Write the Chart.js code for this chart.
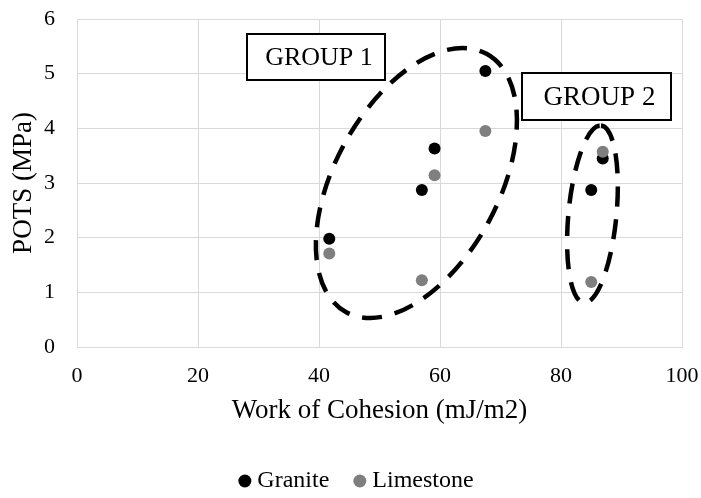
<!DOCTYPE html>
<html lang="en">

<head>
  <meta charset="UTF-8">
  <title>POTS vs Work of Cohesion</title>
  <script src="https://cdn.jsdelivr.net/npm/chart.js"></script>
  <style>
    html,
    body {
      margin: 0;
      padding: 0;
      background: #fff;
    }

    .chart-box {
      width: 701px;
      height: 498px;
      position: relative;
    }
  </style>
</head>

<body>
  <div class="chart-box">
    <canvas id="potsChart"></canvas>
  </div>

  <script>
    // Values
    const cohesion = [41.7, 57.0, 59.1, 67.5, 85.0, 86.9];
    const granitePots = [1.98, 2.87, 3.63, 5.05, 2.87, 3.45];
    const limestonePots = [1.71, 1.22, 3.14, 3.95, 1.19, 3.57];
    const seriesNames = ['Granite', 'Limestone'];
    const xTicks = [0, 20, 40, 60, 80, 100];
    const yTicks = [0, 1, 2, 3, 4, 5, 6];

    const serif = '"Liberation Serif", "Times New Roman", serif';

    // Dashed outlines and labels for the two groups (centre in data units)
    const groups = [
      { label: 'GROUP 1', cx: 56.1, cy: 3.0, rx: 147, ry: 82, angle: -61.5, boxX: 39.5, boxY: 5.30, boxW: 138, boxH: 46, size: 26 },
      { label: 'GROUP 2', cx: 85.2, cy: 2.43, rx: 89, ry: 24, angle: -84.5, boxX: 85.87, boxY: 4.58, boxW: 149, boxH: 47, size: 27 }
    ];

    const toPoints = (xs, ys) => xs.map((v, i) => ({ x: v, y: ys[i] }));

    const groupOutlines = {
      id: 'groupOutlines',
      afterDatasetsDraw(chart) {
        const { ctx, scales: { x, y } } = chart;
        ctx.save();
        groups.forEach(g => {
          // ellipse
          ctx.beginPath();
          ctx.setLineDash([20, 13]);
          ctx.lineWidth = 4.5;
          ctx.strokeStyle = '#000';
          ctx.ellipse(x.getPixelForValue(g.cx), y.getPixelForValue(g.cy), g.rx, g.ry,
            g.angle * Math.PI / 180, 0, Math.PI * 2);
          ctx.stroke();

          // label box
          ctx.setLineDash([]);
          const left = Math.round(x.getPixelForValue(g.boxX) - g.boxW / 2);
          const top = Math.round(y.getPixelForValue(g.boxY) - g.boxH / 2);
          ctx.fillStyle = '#fff';
          ctx.fillRect(left, top, g.boxW, g.boxH);
          ctx.lineWidth = 2;
          ctx.strokeRect(left, top, g.boxW, g.boxH);
          ctx.fillStyle = '#000';
          ctx.font = g.size + 'px ' + serif;
          ctx.textAlign = 'center';
          ctx.textBaseline = 'middle';
          ctx.fillText(g.label, left + g.boxW / 2 + 3, top + g.boxH / 2 + 1);
        });
        ctx.restore();
      }
    };

    const data = {
      datasets: [{
        label: seriesNames[0],
        data: toPoints(cohesion, granitePots),
        backgroundColor: '#000000',
        borderColor: '#000000',
        pointRadius: 6,
        pointBorderWidth: 0,
        order: 1
      }, {
        label: seriesNames[1],
        data: toPoints(cohesion, limestonePots),
        backgroundColor: '#7f7f7f',
        borderColor: '#7f7f7f',
        pointRadius: 6,
        pointBorderWidth: 0,
        order: 0
      }]
    };

    const options = {
      responsive: true,
      maintainAspectRatio: false,
      animation: false,
      devicePixelRatio: 1,
      layout: {
        padding: { top: 19, right: 0, bottom: -5, left: 17 }
      },
      scales: {
        x: {
          type: 'linear',
          min: xTicks[0],
          max: xTicks[xTicks.length - 1],
          afterBuildTicks: scale => { scale.ticks = xTicks.map(v => ({ value: v })); },
          afterFit: scale => {
            scale.height = 92;
            scale.paddingLeft = 0;
            scale.paddingRight = 19;
          },
          grid: { color: '#d9d9d9', lineWidth: 1, drawTicks: false },
          border: { color: '#d9d9d9' },
          ticks: {
            padding: 16,
            color: '#000',
            font: { family: serif, size: 22 }
          },
          title: {
            display: true,
            text: 'Work of Cohesion (mJ/m2)',
            color: '#000',
            font: { family: serif, size: 27 },
            padding: { top: 5, bottom: 12 }
          }
        },
        y: {
          type: 'linear',
          min: yTicks[0],
          max: yTicks[yTicks.length - 1],
          afterBuildTicks: scale => { scale.ticks = yTicks.map(v => ({ value: v })); },
          afterFit: scale => {
            scale.width = 60;
            scale.paddingTop = 0;
            scale.paddingBottom = 0;
          },
          grid: { color: '#d9d9d9', lineWidth: 1, drawTicks: false },
          border: { color: '#d9d9d9' },
          ticks: {
            padding: 22,
            color: '#000',
            font: { family: serif, size: 22 }
          },
          title: {
            display: true,
            text: 'POTS (MPa)',
            color: '#000',
            font: { family: serif, size: 27 },
            padding: { top: -9, bottom: 0 }
          }
        }
      },
      plugins: {
        legend: {
          position: 'bottom',
          labels: {
            usePointStyle: true,
            pointStyle: 'circle',
            boxWidth: 1,
            boxHeight: 9.2,
            padding: 30,
            color: '#000',
            font: { family: serif, size: 24 },
            sort: (a, b) => a.datasetIndex - b.datasetIndex
          }
        },
        tooltip: { enabled: false }
      }
    };

    const potsChart = new Chart(document.getElementById('potsChart'), {
      type: 'scatter',
      data: data,
      options: options,
      plugins: [groupOutlines]
    });
  </script>
</body>

</html>
